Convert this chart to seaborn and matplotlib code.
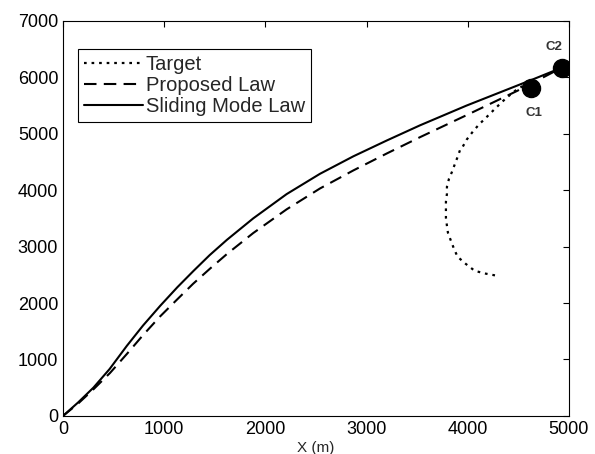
import numpy as np
import pandas as pd
import matplotlib
matplotlib.use('Agg')
import matplotlib.pyplot as plt
import seaborn as sns

# target path (m)
target_x = [4270, 4180, 4070, 3980, 3900, 3865, 3835, 3805, 3795, 3785, 3785, 3785, 3795,
            3795, 3815, 3845, 3875, 3905, 3925, 3945, 3990, 4050, 4110, 4190, 4260, 4340,
            4420, 4490, 4570]
target_y = [2490, 2520, 2570, 2695, 2820, 2960, 3100, 3245, 3370, 3510, 3650, 3795, 3935,
            4060, 4200, 4325, 4470, 4610, 4715, 4750, 4895, 5035, 5160, 5300, 5425, 5565,
            5690, 5790, 5870]

# proposed law pursuer
prop_x = [0, 150, 300, 464, 632, 790, 958, 1126, 1285, 1453, 1621, 1880, 2210, 2540, 2870,
          3200, 3530, 3990, 4490, 4930]
prop_y = [0, 220, 470, 760, 1100, 1430, 1760, 2060, 2340, 2610, 2870, 3240, 3660, 4030, 4350,
          4650, 4940, 5330, 5760, 6170]

# sliding mode law pursuer
smc_x = [0, 150, 300, 460, 630, 790, 960, 1130, 1290, 1450, 1620, 1880, 2210, 2540, 2870,
         3200, 3530, 3990, 4640, 4930]
smc_y = [0, 240, 500, 830, 1240, 1600, 1950, 2280, 2570, 2850, 3120, 3500, 3930, 4290, 4600,
         4880, 5150, 5500, 5960, 6170]

capture_x = [4630, 4930]
capture_y = [5810, 6170]
capture_labels = ['C1', 'C2']

sns.set_style('white')
plt.rcParams['font.family'] = ['Liberation Sans', 'DejaVu Sans']

fig, ax = plt.subplots(figsize=(5.95, 4.54), dpi=100)
fig.subplots_adjust(left=0.106, right=0.956, bottom=0.084, top=0.954)

sns.lineplot(x=target_x, y=target_y, sort=False, estimator=None, ax=ax, color='black',
             linewidth=1.6, linestyle=(0, (1.2, 2.2)), label='Target')
sns.lineplot(x=prop_x, y=prop_y, sort=False, estimator=None, ax=ax, color='black',
             linewidth=1.5, linestyle=(0, (6, 3.5)), label='Proposed Law')
sns.lineplot(x=smc_x, y=smc_y, sort=False, estimator=None, ax=ax, color='black',
             linewidth=1.5, linestyle='-', label='Sliding Mode Law')

ax.plot(capture_x, capture_y, 'o', color='black', markersize=13, zorder=5)
ax.text(4660, 5370, capture_labels[0], fontsize=9.5, fontweight='bold',
        color='#333333', ha='center', va='center')
ax.text(4850, 6530, capture_labels[1], fontsize=9.5, fontweight='bold',
        color='#333333', ha='center', va='center')

ax.set_xlim(0, 5000)
ax.set_ylim(0, 7000)
ax.set_xticks(np.arange(0, 5001, 1000))
ax.set_yticks(np.arange(0, 7001, 1000))
ax.tick_params(direction='in', top=True, right=True, length=4, width=0.8,
               labelsize=13, colors='black')
ax.set_xlabel('X (m)', fontsize=11, labelpad=2)
ax.set_ylabel('')
for s in ax.spines.values():
    s.set_color('black')
    s.set_linewidth(0.8)

leg = ax.legend(loc='upper left', bbox_to_anchor=(0.03, 0.93), fontsize=14.5,
                frameon=True, fancybox=False, edgecolor='black', framealpha=1,
                handlelength=2.9, handletextpad=0.15, borderpad=0.3, labelspacing=0.12,
                borderaxespad=0)
leg.get_frame().set_linewidth(0.8)

fig.savefig('out.png', dpi=100)
